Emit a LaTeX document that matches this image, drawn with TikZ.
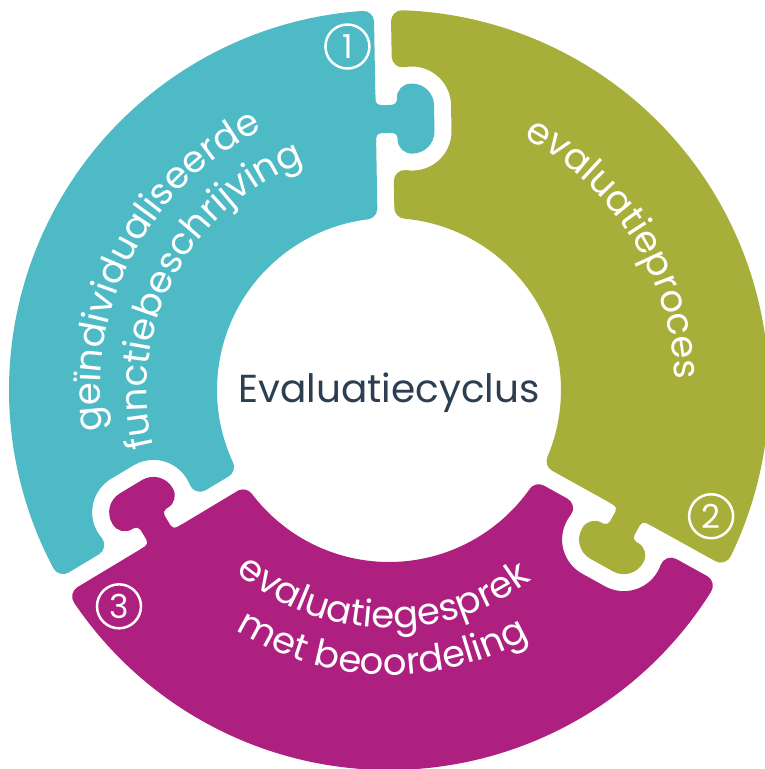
\documentclass[tikz,border=0pt]{standalone}
\usepackage{fontspec}
\setmainfont{Poppins}
\usepackage{tikz}
\usetikzlibrary{decorations.text}

\definecolor{tealpiece}{RGB}{77,186,197}
\definecolor{olivepiece}{RGB}{168,174,58}
\definecolor{magentapiece}{RGB}{173,32,128}
\definecolor{darktext}{RGB}{44,62,80}
\newcommand{\curvefont}{\fontsize{37}{44}\selectfont}

\begin{document}
\begin{tikzpicture}[x=1pt, y=1pt,
        piece/.style={line width=22, line join=round},
        number/.style={circle, draw=white, line width=2.5, minimum size=44,
            inner sep=0, text=white, font=\fontsize{33}{33}\selectfont},
        curved/.style={decorate, decoration={text along path, text color=white,
            text align=center, text={|\curvefont|#1}}}]
    \useasboundingbox (-389,-379) rectangle (376,390);
    \fill[white] (-389,-379) rectangle (376,390);

    % the three pieces, each one with a hole for the next knob
    \begin{scope}[rotate=91]
        \filldraw[piece, fill=tealpiece, draw=tealpiece] (181.958,19.5) -- (368.484,19.5)
            arc[start angle=3.029, end angle=116.971, radius=369]
            {[rotate=120] -- (333.325,-19.5) arc[start angle=10.286, end angle=0, radius=42]
                -- (334,-28) arc[start angle=0, end angle=-90, radius=50]
                -- (258,-78) arc[start angle=-90, end angle=-180, radius=50]
                -- (208,-27) arc[start angle=180, end angle=169.714, radius=42]
                -- (181.958,-19.5)}
            arc[start angle=113.883, end angle=6.117, radius=183] -- cycle;
    \end{scope}
    \begin{scope}[rotate=331]
        \filldraw[piece, fill=olivepiece, draw=olivepiece] (181.958,19.5) -- (368.484,19.5)
            arc[start angle=3.029, end angle=116.971, radius=369]
            {[rotate=120] -- (333.325,-19.5) arc[start angle=10.286, end angle=0, radius=42]
                -- (334,-28) arc[start angle=0, end angle=-90, radius=50]
                -- (258,-78) arc[start angle=-90, end angle=-180, radius=50]
                -- (208,-27) arc[start angle=180, end angle=169.714, radius=42]
                -- (181.958,-19.5)}
            arc[start angle=113.883, end angle=6.117, radius=183] -- cycle;
    \end{scope}
    \begin{scope}[rotate=211]
        \filldraw[piece, fill=magentapiece, draw=magentapiece] (181.958,19.5) -- (368.484,19.5)
            arc[start angle=3.029, end angle=116.971, radius=369]
            {[rotate=120] -- (333.325,-19.5) arc[start angle=10.286, end angle=0, radius=42]
                -- (334,-28) arc[start angle=0, end angle=-90, radius=50]
                -- (258,-78) arc[start angle=-90, end angle=-180, radius=50]
                -- (208,-27) arc[start angle=180, end angle=169.714, radius=42]
                -- (181.958,-19.5)}
            arc[start angle=113.883, end angle=6.117, radius=183] -- cycle;
    \end{scope}

    % knobs
    \begin{scope}[rotate=91]
        \fill[tealpiece] (247,19.5) -- (247,8.5) -- (252,8.5) arc[start angle=90, end angle=0, radius=5]
            -- (257,-8) arc[start angle=0, end angle=-90, radius=5]
            -- (250,-13) arc[start angle=90, end angle=180, radius=14]
            -- (236,-28) arc[start angle=180, end angle=270, radius=22]
            -- (284,-50) arc[start angle=270, end angle=360, radius=22]
            -- (306,-27) arc[start angle=0, end angle=90, radius=14]
            -- (290,-13) arc[start angle=270, end angle=180, radius=5]
            -- (285,3.5) arc[start angle=180, end angle=90, radius=5]
            -- (295,8.5) -- (295,19.5) -- cycle;
    \end{scope}
    \begin{scope}[rotate=331]
        \fill[olivepiece] (247,19.5) -- (247,8.5) -- (252,8.5) arc[start angle=90, end angle=0, radius=5]
            -- (257,-8) arc[start angle=0, end angle=-90, radius=5]
            -- (250,-13) arc[start angle=90, end angle=180, radius=14]
            -- (236,-28) arc[start angle=180, end angle=270, radius=22]
            -- (284,-50) arc[start angle=270, end angle=360, radius=22]
            -- (306,-27) arc[start angle=0, end angle=90, radius=14]
            -- (290,-13) arc[start angle=270, end angle=180, radius=5]
            -- (285,3.5) arc[start angle=180, end angle=90, radius=5]
            -- (295,8.5) -- (295,19.5) -- cycle;
    \end{scope}
    \begin{scope}[rotate=211]
        \fill[magentapiece] (247,19.5) -- (247,8.5) -- (252,8.5) arc[start angle=90, end angle=0, radius=5]
            -- (257,-8) arc[start angle=0, end angle=-90, radius=5]
            -- (250,-13) arc[start angle=90, end angle=180, radius=14]
            -- (236,-28) arc[start angle=180, end angle=270, radius=22]
            -- (284,-50) arc[start angle=270, end angle=360, radius=22]
            -- (306,-27) arc[start angle=0, end angle=90, radius=14]
            -- (290,-13) arc[start angle=270, end angle=180, radius=5]
            -- (285,3.5) arc[start angle=180, end angle=90, radius=5]
            -- (295,8.5) -- (295,19.5) -- cycle;
    \end{scope}

    % labels on the pieces
    \path[curved=geïndividualiseerde] (202:289) arc[start angle=202, end angle=102, radius=289];
    \path[curved=functiebeschrijving] (202:242) arc[start angle=202, end angle=102, radius=242];
    \path[curved=evaluatieproces] (82:286) arc[start angle=82, end angle=-18, radius=286];
    \path[curved=evaluatiegesprek] (218.5:238) arc[start angle=218.5, end angle=318.5, radius=238];
    \path[curved={met beoordeling}] (218.5:285) arc[start angle=218.5, end angle=318.5, radius=285];

    \node[number] (one) at (96.9:346) {1};
    \node[number] (two) at (338.6:346) {2};
    \node[number] (three) at (218.7:346) {3};

    \node[anchor=base, text=darktext, font=\fontsize{39}{44}\selectfont] (title) at (0,-12) {Evaluatiecyclus};
\end{tikzpicture}
\end{document}
